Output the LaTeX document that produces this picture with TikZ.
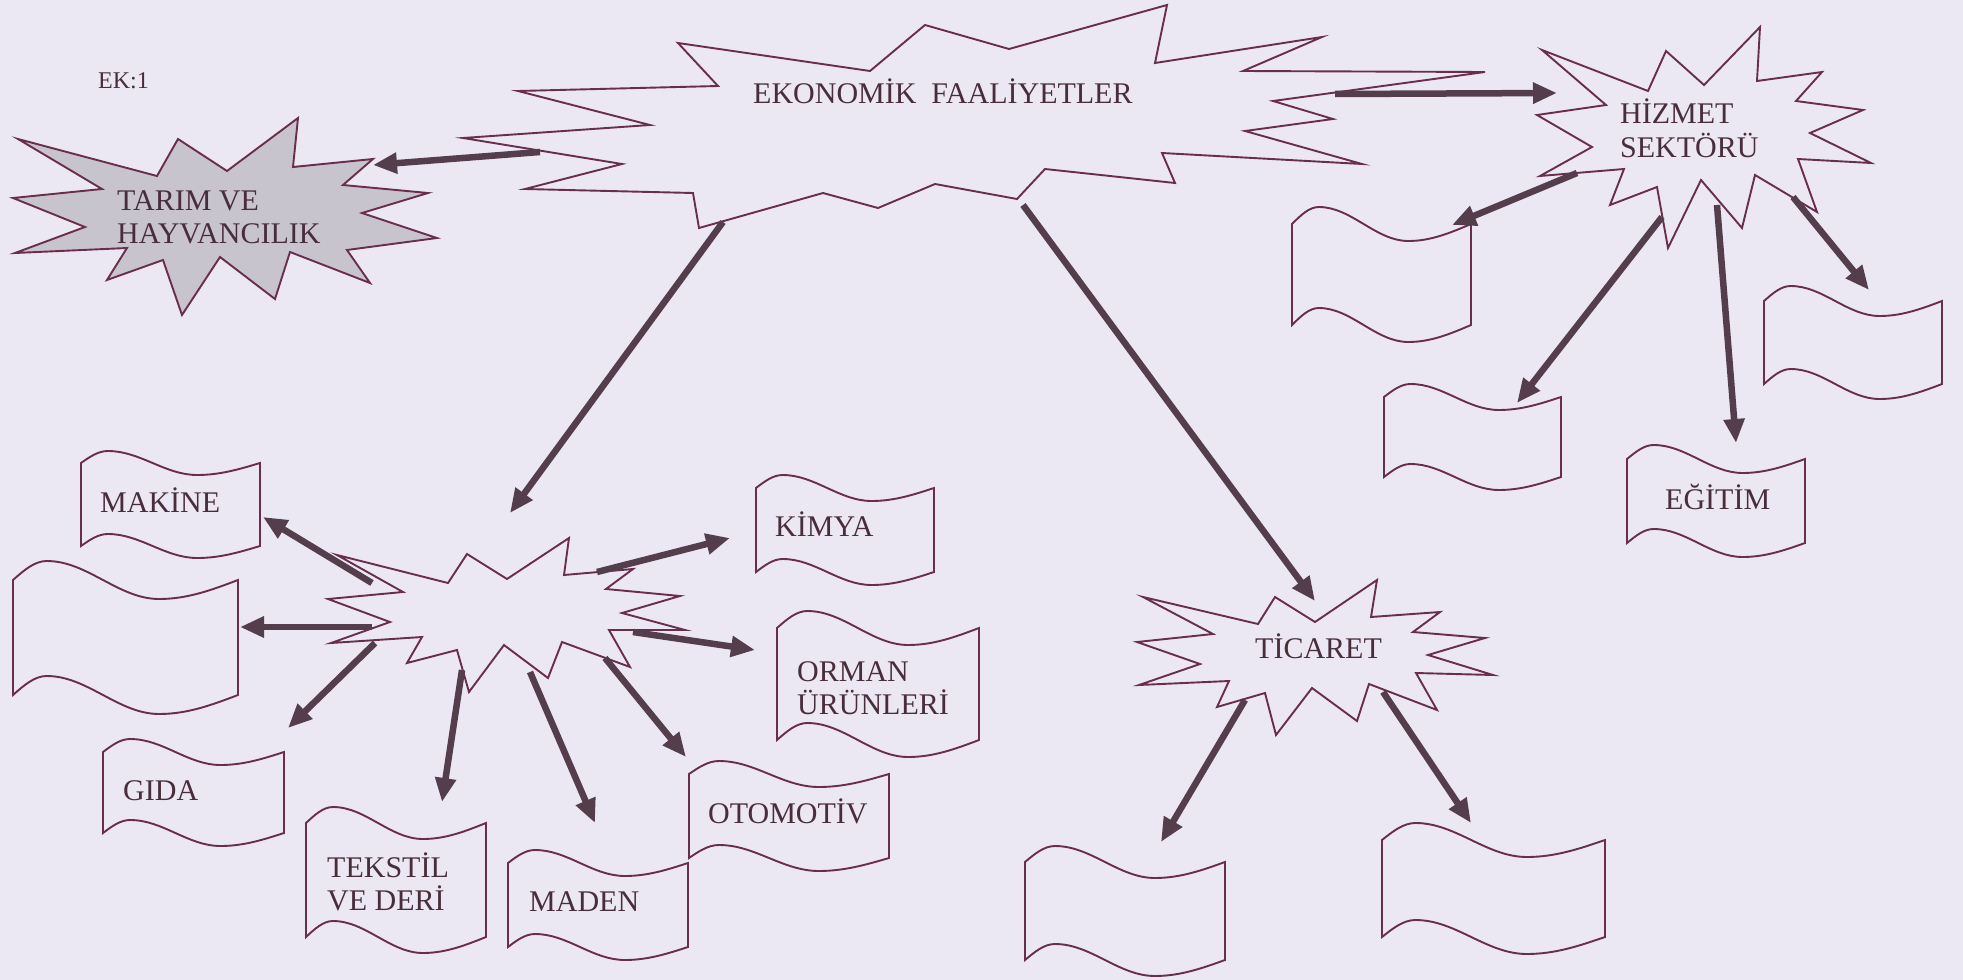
\documentclass[tikz,border=0pt]{standalone}
\usepackage{fontspec}
\setmainfont{Liberation Serif}
\usetikzlibrary{arrows.meta}
\definecolor{bgc}{RGB}{235,231,243}
\definecolor{linec}{RGB}{105,45,78}
\definecolor{arrc}{RGB}{84,62,76}
\definecolor{textc}{RGB}{72,46,58}
\definecolor{grayfill}{RGB}{200,196,206}
\newcommand{\wflag}[6]{%
  \draw[flagline] (#2,#3) sin ({#2+0.15*#4},{#3-#6}) cos ({#2+0.4*#4},#3)
    sin ({#2+0.65*#4},{#3+#6}) cos ({#2+#4},#3) -- ({#2+#4},{#3+#5})
    sin ({#2+0.65*#4},{#3+#5+#6}) cos ({#2+0.4*#4},{#3+#5})
    sin ({#2+0.15*#4},{#3+#5-#6}) cos (#2,{#3+#5}) -- cycle;
  \coordinate (#1) at ({#2+0.5*#4},{#3+0.5*#5});}
\begin{document}
\begin{tikzpicture}[x=1pt,y=-1pt,
  starline/.style={draw=linec, line width=1.9pt, line join=miter, fill=bgc},
  flagline/.style={draw=linec, line width=1.9pt, fill=bgc},
  arr/.style={draw=arrc, line width=6.5pt, -{Triangle[length=24pt,width=20pt]}},
  lbl/.style={text=textc, inner sep=0pt, anchor=base west, font=\fontsize{30}{34}\selectfont}]
\fill[bgc] (0,0) rectangle (1963,980);
\useasboundingbox (0,0) rectangle (1963,980);

\node[lbl, font=\fontsize{24}{28}\selectfont] (ek) at (98,88) {EK:1};

% big star
\draw[starline] (925,25) -- (1009,49) -- (1167,5) -- (1155,63) -- (1322,37) -- (1243,71)
  -- (1485,72) -- (1273,101) -- (1333,119) -- (1245,131) -- (1362,164) -- (1162,153)
  -- (1175,183) -- (1045,169) -- (1017,199) -- (935,184) -- (878,208) -- (823,193)
  -- (699,228) -- (693,193) -- (525,189) -- (622,164) -- (463,138) -- (650,125)
  -- (518,91) -- (718,86) -- (678,43) -- (870,71) -- cycle;
\node[lbl] (eko) at (753,103) {EKONOMİK\ \ FAALİYETLER};

% tarim star
\draw[starline, fill=grayfill] (18,139) -- (157,176) -- (178,139) -- (227,171) -- (298,118)
  -- (293,167) -- (373,159) -- (343,185) -- (428,193) -- (362,213) -- (437,238)
  -- (347,250) -- (370,283) -- (290,252) -- (275,299) -- (220,257) -- (182,315)
  -- (163,260) -- (107,280) -- (127,248) -- (15,253) -- (85,227) -- (13,198)
  -- (102,189) -- cycle;
\node[lbl] (tarim) at (117,210) {TARIM VE};
\node[lbl] (tarim2) at (117,243) {HAYVANCILIK};

% hizmet star
\draw[starline] (1542,50) -- (1648,91) -- (1666,51) -- (1704,85) -- (1760,27) -- (1757,81)
  -- (1822,72) -- (1796,101) -- (1863,110) -- (1810,133) -- (1871,163) -- (1798,159)
  -- (1817,212) -- (1755,175) -- (1742,228) -- (1701,180) -- (1668,248) -- (1657,187)
  -- (1610,205) -- (1624,169) -- (1540,176) -- (1592,147) -- (1537,115) -- (1606,105)
  -- cycle;
\node[lbl] (hizmet) at (1620,123) {HİZMET};
\node[lbl] (hizmet2) at (1620,157) {SEKTÖRÜ};

% middle star
\draw[starline] (337,555) -- (448,583) -- (467,554) -- (507,579) -- (569,538) -- (564,575)
  -- (633,569) -- (606,589) -- (680,596) -- (622,613) -- (685,630) -- (609,630)
  -- (630,667) -- (562,642) -- (548,678) -- (504,645) -- (469,692) -- (457,650)
  -- (407,663) -- (422,637) -- (331,643) -- (390,622) -- (328,599) -- (403,592) -- cycle;
\coordinate (sanayi) at (505,615);

% ticaret star
\draw[starline] (1143,597) -- (1258,624) -- (1275,597) -- (1315,622) -- (1377,580) -- (1371,617)
  -- (1440,612) -- (1413,632) -- (1485,638) -- (1428,655) -- (1493,675) -- (1416,673)
  -- (1437,710) -- (1369,684) -- (1357,721) -- (1312,688) -- (1276,735) -- (1265,693)
  -- (1217,707) -- (1229,681) -- (1139,685) -- (1200,664) -- (1137,642) -- (1213,634) -- cycle;
\node[lbl] (ticaret) at (1255,658) {TİCARET};

% flags
\wflag{makine}{81}{463}{179}{83}{12}
\node[lbl] (makinet) at (100,512) {MAKİNE};
\wflag{bosA}{13}{580}{225}{115}{19}
\wflag{gida}{103}{752}{181}{81}{13}
\node[lbl] (gidat) at (123,800) {GIDA};
\wflag{tekstil}{306}{823}{180}{114}{16}
\node[lbl] (tekstilt) at (327,877) {TEKSTİL};
\node[lbl] (tekstilt2) at (327,910) {VE DERİ};
\wflag{maden}{508}{863}{180}{84}{13}
\node[lbl] (madent) at (529,911) {MADEN};
\wflag{otomotiv}{689}{774}{200}{84}{13}
\node[lbl] (otomotivt) at (708,823) {OTOMOTİV};
\wflag{orman}{777}{628}{202}{112}{17}
\node[lbl] (ormant) at (797,681) {ORMAN};
\node[lbl] (ormant2) at (797,714) {ÜRÜNLERİ};
\wflag{kimya}{756}{488}{178}{84}{13}
\node[lbl] (kimyat) at (775,536) {KİMYA};
\wflag{ticA}{1025}{862}{200}{98}{16}
\wflag{ticB}{1382}{840}{223}{97}{17}
\wflag{hizA}{1292}{224}{179}{101}{17}
\wflag{hizB}{1384}{397}{177}{80}{13}
\wflag{egitim}{1627}{459}{178}{84}{14}
\node[lbl] (egitimt) at (1665,509) {EĞİTİM};
\wflag{hizC}{1764}{301}{178}{83}{15}

% arrow end points
\coordinate (e1) at (540,152);  \coordinate (h1) at (373,165);
\coordinate (e2) at (723,222);  \coordinate (h2) at (510,513);
\coordinate (e3) at (1023,205); \coordinate (h3) at (1315,601);
\coordinate (e4) at (1335,94);  \coordinate (h4) at (1557,93);
\coordinate (s1) at (372,583);  \coordinate (m1) at (263,517);
\coordinate (s2) at (372,627);  \coordinate (m2) at (240,627);
\coordinate (s3) at (375,643);  \coordinate (m3) at (288,728);
\coordinate (s4) at (462,670);  \coordinate (m4) at (442,802);
\coordinate (s5) at (530,672);  \coordinate (m5) at (595,823);
\coordinate (s6) at (605,658);  \coordinate (m6) at (686,757);
\coordinate (s7) at (633,632);  \coordinate (m7) at (755,650);
\coordinate (s8) at (597,572);  \coordinate (m8) at (730,538);
\coordinate (c1) at (1245,700); \coordinate (d1) at (1161,842);
\coordinate (c2) at (1383,692); \coordinate (d2) at (1471,823);
\coordinate (z1) at (1577,173); \coordinate (y1) at (1452,225);
\coordinate (z2) at (1662,217); \coordinate (y2) at (1517,403);
\coordinate (z3) at (1717,205); \coordinate (y3) at (1736,443);
\coordinate (z4) at (1793,197); \coordinate (y4) at (1869,290);

\foreach \a/\b in {e1/h1,e2/h2,e3/h3,e4/h4,s1/m1,s2/m2,s3/m3,s4/m4,s5/m5,s6/m6,s7/m7,s8/m8,c1/d1,c2/d2,z1/y1,z2/y2,z3/y3,z4/y4}
  \draw[arr] (\a) -- (\b);
\end{tikzpicture}
\end{document}
